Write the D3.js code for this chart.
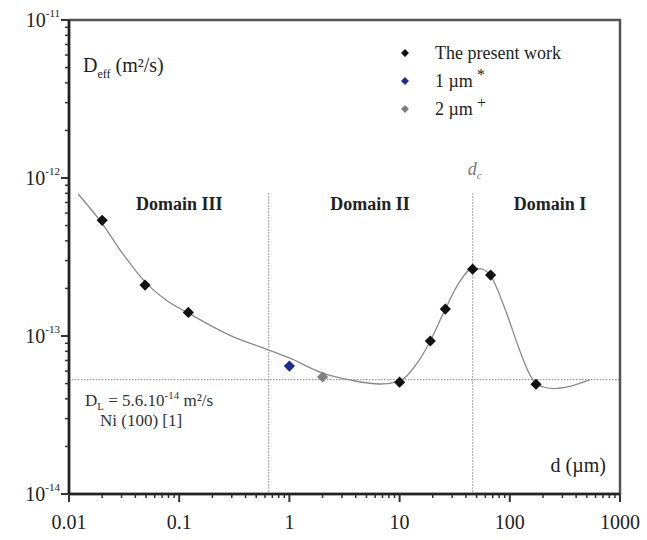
<!DOCTYPE html>
<html>
<head>
<meta charset="utf-8">
<script src="https://cdn.jsdelivr.net/npm/d3@7"></script>
<style>
  body { margin: 0; background: #fff; }
  svg { display: block; font-family: 'Liberation Serif', 'DejaVu Serif', serif; }
</style>
</head>
<body>
<svg width="647" height="540"></svg>
<script>
// grain size d (um) and effective diffusion coefficient (m2/s)
const presentD = [0.02, 0.049, 0.121, 10, 19, 26, 46, 67, 173];
const presentDeff = [5.4e-13, 2.1e-13, 1.41e-13, 5.1e-14, 9.3e-14, 1.48e-13, 2.65e-13, 2.43e-13, 4.95e-14];
const ref1D = [1];
const ref1Deff = [6.45e-14];
const ref2D = [2];
const ref2Deff = [5.5e-14];

// fitted curve
const fitD = [0.0121, 0.0195, 0.0309, 0.049, 0.0759, 0.12, 0.289, 0.65, 1, 2, 3.55, 6.64, 10, 15, 19, 26, 35, 46, 55, 67, 90, 120, 150, 175, 250, 350, 535];
const fitDeff = [7.92e-13, 5.27e-13, 3.3e-13, 2.2e-13, 1.69e-13, 1.4e-13, 1.01e-13, 8.15e-14, 7.26e-14, 5.83e-14, 5.27e-14, 4.97e-14, 5.19e-14, 7.0e-14, 9.3e-14, 1.48e-13, 2.2e-13, 2.68e-13, 2.66e-13, 2.4e-13, 1.5e-13, 8.5e-14, 5.8e-14, 4.95e-14, 4.65e-14, 4.8e-14, 5.3e-14];

const domainBounds = [0.65, 46];
const lineDL = 5.3e-14;
const domainNames = ['Domain III', 'Domain II', 'Domain I'];
const domainCenters = [0.1, 5.4, 232];

const xTicks = [0.01, 0.1, 1, 10, 100, 1000];
const xTickLabels = ['0.01', '0.1', '1', '10', '100', '1000'];
const yTicks = [1e-11, 1e-12, 1e-13, 1e-14];
const yTickExps = ['-11', '-12', '-13', '-14'];

const svg = d3.select('svg');
const margin = { top: 20, right: 27, bottom: 46, left: 69 };
const width = +svg.attr('width');
const height = +svg.attr('height');
const innerWidth = width - margin.left - margin.right;
const innerHeight = height - margin.top - margin.bottom;

const xScale = d3.scaleLog().domain([0.01, 1000]).range([0, innerWidth]);
const yScale = d3.scaleLog().domain([1e-14, 1e-11]).range([innerHeight, 0]);

const g = svg.append('g')
    .attr('transform', `translate(${margin.left}, ${margin.top})`);

const axisColor = '#333';

// minor ticks
const xMinor = [];
const yMinor = [];
for (let e = -2; e < 3; e++) for (let k = 2; k < 10; k++) xMinor.push(k * Math.pow(10, e));
for (let e = -14; e < -11; e++) for (let k = 2; k < 10; k++) yMinor.push(k * Math.pow(10, e));

g.selectAll('.xminor').data(xMinor).enter().append('line')
    .attr('x1', d => xScale(d)).attr('x2', d => xScale(d))
    .attr('y1', innerHeight).attr('y2', innerHeight + 4)
    .attr('stroke', axisColor).attr('stroke-width', 1.5);
g.selectAll('.xmajor').data(xTicks).enter().append('line')
    .attr('x1', d => xScale(d)).attr('x2', d => xScale(d))
    .attr('y1', innerHeight).attr('y2', innerHeight + 8)
    .attr('stroke', axisColor).attr('stroke-width', 2);
g.selectAll('.yminor').data(yMinor).enter().append('line')
    .attr('y1', d => yScale(d)).attr('y2', d => yScale(d))
    .attr('x1', 0).attr('x2', -4)
    .attr('stroke', axisColor).attr('stroke-width', 1.5);
g.selectAll('.ymajor').data(yTicks).enter().append('line')
    .attr('y1', d => yScale(d)).attr('y2', d => yScale(d))
    .attr('x1', 0).attr('x2', -8)
    .attr('stroke', axisColor).attr('stroke-width', 2);

// tick labels
g.selectAll('.xlabel').data(xTicks).enter().append('text')
    .attr('x', d => xScale(d))
    .attr('y', innerHeight + 35)
    .attr('text-anchor', 'middle')
    .attr('font-size', 20)
    .attr('fill', '#222')
    .text((d, i) => xTickLabels[i]);

const yLab = g.selectAll('.ylabel').data(yTicks).enter().append('text')
    .attr('x', -9)
    .attr('y', d => yScale(d) + 7)
    .attr('text-anchor', 'end')
    .attr('font-size', 20)
    .attr('fill', '#222');
yLab.append('tspan').text('10');
yLab.append('tspan').attr('dy', -10).attr('font-size', 11).text((d, i) => yTickExps[i]);

// reference lines
g.append('line')
    .attr('x1', 0).attr('x2', innerWidth)
    .attr('y1', yScale(lineDL)).attr('y2', yScale(lineDL))
    .attr('stroke', '#999').attr('stroke-width', 1.2).attr('stroke-dasharray', '1.5,1.5');
g.selectAll('.vline').data(domainBounds).enter().append('line')
    .attr('x1', d => xScale(d)).attr('x2', d => xScale(d))
    .attr('y1', yScale(8e-13)).attr('y2', innerHeight)
    .attr('stroke', '#999').attr('stroke-width', 1.2).attr('stroke-dasharray', '1.5,1.5');

// fitted curve
const fitData = fitD.map((d, i) => ({ d, v: fitDeff[i] }));
g.append('path')
    .datum(fitData)
    .attr('fill', 'none')
    .attr('stroke', '#8a8a8a')
    .attr('stroke-width', 1.3)
    .attr('d', d3.line().x(p => xScale(p.d)).y(p => yScale(p.v)).curve(d3.curveMonotoneX));

// points
const diamond = size => d3.symbol().type(d3.symbolDiamond2).size(size)();
const drawPoints = (xs, ys, color) => {
    g.selectAll(null).data(xs).enter().append('path')
        .attr('transform', (d, i) => `translate(${xScale(d)}, ${yScale(ys[i])})`)
        .attr('d', diamond(80))
        .attr('fill', color);
};
drawPoints(presentD, presentDeff, '#111');
drawPoints(ref1D, ref1Deff, '#1c2c8c');
drawPoints(ref2D, ref2Deff, '#808080');

// frame
g.append('rect')
    .attr('width', innerWidth).attr('height', innerHeight)
    .attr('fill', 'none').attr('stroke', '#555').attr('stroke-width', 2.5);
g.append('line').attr('x1', 0).attr('x2', 0).attr('y1', 0).attr('y2', innerHeight)
    .attr('stroke', '#222').attr('stroke-width', 2.5);
g.append('line').attr('x1', 0).attr('x2', innerWidth).attr('y1', innerHeight).attr('y2', innerHeight)
    .attr('stroke', '#222').attr('stroke-width', 2.5);

// domain labels
g.selectAll('.domain-label').data(domainNames).enter().append('text')
    .attr('x', (d, i) => xScale(domainCenters[i]))
    .attr('y', 190)
    .attr('text-anchor', 'middle')
    .attr('font-size', 18)
    .attr('font-weight', 'bold')
    .attr('fill', '#222')
    .text(d => d);

// d_c
const dc = g.append('text')
    .attr('x', xScale(domainBounds[1]) - 5)
    .attr('y', 155)
    .attr('font-size', 18)
    .attr('font-style', 'italic')
    .attr('fill', '#777');
dc.append('tspan').text('d');
dc.append('tspan').attr('dy', 4).attr('font-size', 11).text('c');

// y label
const yTitle = g.append('text')
    .attr('x', 14).attr('y', 52)
    .attr('font-size', 20)
    .attr('fill', '#222');
yTitle.append('tspan').text('D');
yTitle.append('tspan').attr('dy', 6).attr('font-size', 12).text('eff');
yTitle.append('tspan').attr('dy', -6).text(' (m²/s)');

// x label
g.append('text')
    .attr('x', innerWidth - 14).attr('y', innerHeight - 22)
    .attr('text-anchor', 'end')
    .attr('font-size', 20)
    .attr('fill', '#222')
    .text('d (µm)');

// D_L annotation
const dl = g.append('text')
    .attr('x', 16).attr('y', 386)
    .attr('font-size', 17)
    .attr('fill', '#333');
dl.append('tspan').text('D');
dl.append('tspan').attr('dy', 4).attr('font-size', 11).text('L');
dl.append('tspan').attr('dy', -4).text(' = 5.6.10');
dl.append('tspan').attr('dy', -7).attr('font-size', 11).text('-14');
dl.append('tspan').attr('dy', 7).text(' m²/s');
g.append('text')
    .attr('x', 31).attr('y', 406)
    .attr('font-size', 17)
    .attr('fill', '#333')
    .text('Ni (100) [1]');

// legend
const legendItems = [
    { label: 'The present work', sup: '', color: '#111' },
    { label: '1 µm', sup: '*', color: '#1c2c8c' },
    { label: '2 µm', sup: '+', color: '#808080' }
];
const legend = g.append('g').attr('transform', 'translate(336, 33)');
legendItems.forEach((item, i) => {
    const row = legend.append('g').attr('transform', `translate(0, ${i * 28})`);
    row.append('path').attr('d', diamond(40)).attr('fill', item.color);
    const t = row.append('text')
        .attr('x', 30).attr('y', 6)
        .attr('font-size', 18)
        .attr('fill', '#222');
    t.append('tspan').text(item.label);
    if (item.sup) t.append('tspan').attr('dx', 4).attr('dy', -7).attr('font-size', 16).text(item.sup);
});
</script>
</body>
</html>
